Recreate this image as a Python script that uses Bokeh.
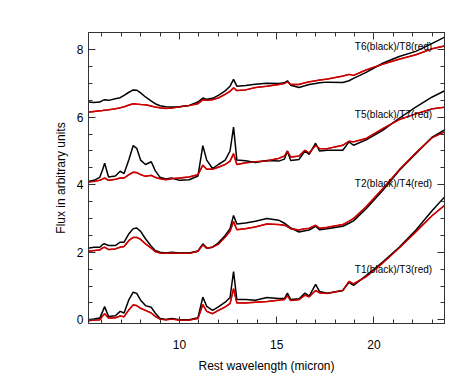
from bokeh.plotting import figure
from bokeh.models import ColumnDataSource, LinearAxis, SingleIntervalTicker, Range1d
from bokeh.core.properties import value
from bokeh.embed import file_html
from bokeh.resources import INLINE

# Rest wavelength grid (micron)
wavelength = [5.3, 5.6, 5.9, 6.05, 6.15, 6.35, 6.7, 6.95, 7.15, 7.4, 7.62, 7.8, 8.0, 8.25,
              8.55, 8.75, 9.0, 9.3, 9.6, 10.0, 10.5, 10.95, 11.2, 11.4, 11.7, 12.0, 12.35,
              12.6, 12.78, 12.95, 13.4, 13.9, 14.5, 15.1, 15.4, 15.55, 15.72, 16.15, 16.45,
              16.67, 17.0, 17.2, 17.6, 18.4, 18.72, 18.95, 19.6, 20.45, 21.3, 22.15, 23.0, 23.7]

t1_black = [0.0, 0.02, 0.05, 0.25, 0.39, 0.1, 0.12, 0.25, 0.2, 0.6, 0.82, 0.78, 0.58, 0.42,
            0.37, 0.2, 0.04, 0.01, 0.04, 0.0, 0.0, 0.06, 0.67, 0.4, 0.28, 0.38, 0.52,
            0.66, 1.43, 0.6, 0.6, 0.58, 0.66, 0.63, 0.63, 0.79, 0.6, 0.62, 0.79,
            0.7, 1.05, 0.84, 0.79, 0.87, 1.11, 1.02, 1.31, 1.71, 2.15, 2.65, 3.24, 3.68]
t3_red = [-0.03, -0.01, 0.0, 0.12, 0.18, 0.05, 0.06, 0.11, 0.09, 0.3, 0.44, 0.42, 0.34, 0.28,
          0.2, 0.1, 0.02, 0.0, 0.02, -0.01, -0.01, 0.04, 0.45, 0.25, 0.18, 0.28, 0.38,
          0.48, 0.92, 0.5, 0.5, 0.52, 0.54, 0.58, 0.6, 0.72, 0.57, 0.6, 0.73,
          0.68, 0.87, 0.8, 0.78, 0.87, 1.14, 1.06, 1.28, 1.68, 2.13, 2.6, 3.09, 3.42]
t2_black = [2.12, 2.15, 2.15, 2.23, 2.25, 2.2, 2.2, 2.3, 2.3, 2.55, 2.7, 2.72, 2.62, 2.4,
            2.18, 2.05, 2.0, 1.98, 2.0, 1.98, 1.98, 2.04, 2.25, 2.13, 2.15, 2.28, 2.5,
            2.7, 3.09, 2.84, 2.87, 2.92, 3.0, 2.95, 2.86, 2.8, 2.72, 2.6, 2.64,
            2.66, 2.77, 2.67, 2.7, 2.77, 2.86, 2.93, 3.29, 3.83, 4.42, 4.92, 5.41, 5.65]
t4_red = [2.03, 2.05, 2.07, 2.13, 2.15, 2.08, 2.1, 2.15, 2.17, 2.35, 2.44, 2.44, 2.38, 2.25,
          2.12, 2.02, 1.98, 1.97, 1.98, 1.97, 1.97, 2.03, 2.22, 2.12, 2.15, 2.24, 2.45,
          2.62, 2.91, 2.67, 2.7, 2.75, 2.84, 2.82, 2.8, 2.76, 2.7, 2.66, 2.7,
          2.71, 2.8, 2.71, 2.74, 2.82, 2.92, 3.0, 3.35, 3.88, 4.44, 4.94, 5.4, 5.58]
t5_black = [4.1, 4.13, 4.22, 4.45, 4.64, 4.23, 4.26, 4.4, 4.33, 4.75, 5.16, 5.08, 4.73, 4.6,
            4.68, 4.42, 4.22, 4.17, 4.2, 4.13, 4.15, 4.26, 5.16, 4.73, 4.48, 4.6, 4.73,
            5.0, 5.71, 4.73, 4.71, 4.66, 4.72, 4.7, 4.76, 4.99, 4.72, 4.75, 5.0,
            4.9, 5.23, 5.0, 5.02, 5.02, 5.27, 5.17, 5.33, 5.61, 5.97, 6.3, 6.6, 6.8]
t7_red = [4.08, 4.1, 4.13, 4.17, 4.2, 4.13, 4.16, 4.2, 4.2, 4.3, 4.37, 4.36, 4.3, 4.25,
          4.28, 4.22, 4.18, 4.15, 4.18, 4.2, 4.23, 4.3, 4.58, 4.46, 4.46, 4.52, 4.6,
          4.7, 4.92, 4.6, 4.65, 4.68, 4.71, 4.78, 4.85, 5.0, 4.82, 4.85, 5.02,
          4.94, 5.17, 5.07, 5.07, 5.17, 5.29, 5.27, 5.37, 5.66, 5.93, 6.1, 6.25, 6.3]
t6_black = [6.45, 6.44, 6.45, 6.5, 6.52, 6.5, 6.55, 6.58, 6.65, 6.74, 6.81, 6.8, 6.72, 6.6,
            6.48, 6.4, 6.34, 6.31, 6.3, 6.31, 6.35, 6.45, 6.57, 6.53, 6.56, 6.65, 6.78,
            6.92, 7.12, 6.92, 6.94, 6.98, 7.01, 7.0, 7.02, 7.08, 6.95, 6.88, 6.93,
            6.97, 7.0, 7.02, 7.04, 7.03, 7.08, 7.15, 7.33, 7.6, 7.8, 7.95, 8.19, 8.39]
t8_red = [6.15, 6.17, 6.19, 6.2, 6.21, 6.22, 6.25, 6.28, 6.31, 6.36, 6.4, 6.39, 6.38, 6.37,
          6.33, 6.3, 6.28, 6.26, 6.27, 6.31, 6.35, 6.4, 6.52, 6.5, 6.52, 6.57, 6.68,
          6.77, 6.87, 6.79, 6.81, 6.88, 6.92, 6.97, 7.0, 7.05, 6.97, 6.97, 7.02,
          7.05, 7.08, 7.1, 7.13, 7.22, 7.27, 7.24, 7.4, 7.57, 7.72, 7.85, 8.03, 8.12]

pair_labels = ["T6(black)/T8(red)", "T5(black)/T7(red)", "T2(black)/T4(red)", "T1(black)/T3(red)"]
label_x = [19.02, 19.02, 19.02, 19.02]
label_y = [8.11, 6.08, 4.04, 1.49]

FONT = "Liberation Sans"
AX = "#333333"
RED = "#cc0000"

p = figure(frame_width=356, frame_height=291,
           min_border_left=88, min_border_right=19, min_border_top=32, min_border_bottom=57,
           x_range=Range1d(5.32, 23.63), y_range=Range1d(-0.11, 8.51),
           output_backend="svg", toolbar_location=None,
           x_axis_label="Rest wavelength (micron)", y_axis_label="Flux in arbitrary units")
p.xgrid.visible = False
p.ygrid.visible = False
p.outline_line_color = AX
p.background_fill_color = "white"
p.border_fill_color = "white"

src = ColumnDataSource(dict(x=wavelength, t1=t1_black, t3=t3_red, t2=t2_black, t4=t4_red,
                            t5=t5_black, t7=t7_red, t6=t6_black, t8=t8_red))
for k in ["t3", "t4", "t7", "t8"]:
    p.line("x", k, source=src, line_color=RED, line_width=1.5)
for k in ["t1", "t2", "t5", "t6"]:
    p.line("x", k, source=src, line_color="black", line_width=1.5)
for k in ["t3", "t4", "t7", "t8"]:
    p.line("x", k, source=src, line_color=RED, line_width=1.3)

lab = ColumnDataSource(dict(x=label_x, y=label_y, t=pair_labels))
p.text("x", "y", text="t", source=lab, text_font=value(FONT), text_font_size=value("10px"),
       text_align="left", text_baseline="middle", text_color="black")

xt = SingleIntervalTicker(interval=5, num_minor_ticks=5)
yt = SingleIntervalTicker(interval=2, num_minor_ticks=4)

def style(ax, labels=True):
    ax.axis_line_color = AX
    ax.major_tick_line_color = AX
    ax.minor_tick_line_color = AX
    ax.major_tick_in = 7
    ax.major_tick_out = 0
    ax.minor_tick_in = 4
    ax.minor_tick_out = 0
    ax.major_label_text_font = FONT
    ax.major_label_text_font_size = "12px"
    ax.major_label_text_color = "black" if labels else None
    ax.axis_label_text_font = FONT
    ax.axis_label_text_font_size = "12px"
    ax.axis_label_text_font_style = "normal"
    ax.axis_label_text_color = "black"

p.xaxis.ticker = xt
p.yaxis.ticker = yt
style(p.xaxis[0])
style(p.yaxis[0])
p.xaxis.major_label_standoff = 16
p.xaxis.axis_label_standoff = 7
p.yaxis.major_label_standoff = 5
p.yaxis.axis_label_standoff = 6

top = LinearAxis(ticker=SingleIntervalTicker(interval=5, num_minor_ticks=5))
style(top, labels=False)
p.add_layout(top, "above")
right = LinearAxis(ticker=SingleIntervalTicker(interval=2, num_minor_ticks=4))
style(right, labels=False)
p.add_layout(right, "right")

open("out.html", "w").write(file_html(p, INLINE))
